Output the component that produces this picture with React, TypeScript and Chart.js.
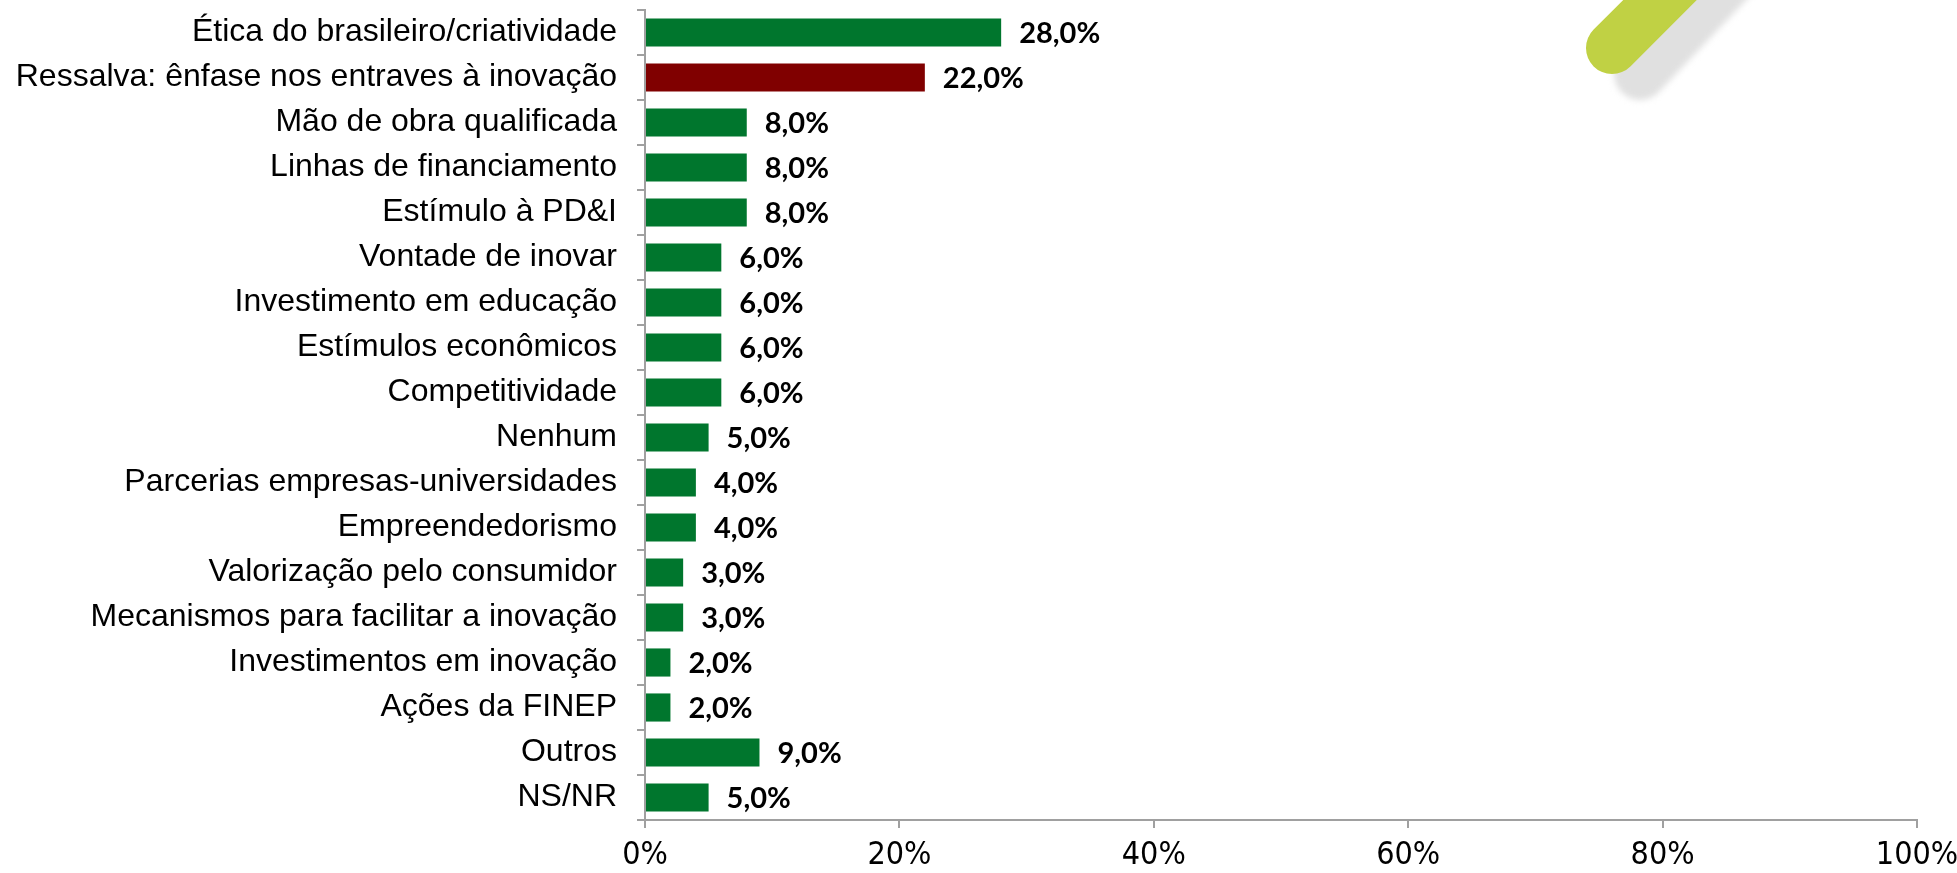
import React, { useEffect, useRef } from "react";
import { Chart, registerables } from "chart.js";

Chart.register(...registerables);

const categories: string[] = [
  "Ética do brasileiro/criatividade",
  "Ressalva: ênfase nos entraves à inovação",
  "Mão de obra qualificada",
  "Linhas de financiamento",
  "Estímulo à PD&I",
  "Vontade de inovar",
  "Investimento em educação",
  "Estímulos econômicos",
  "Competitividade",
  "Nenhum",
  "Parcerias empresas-universidades",
  "Empreendedorismo",
  "Valorização pelo consumidor",
  "Mecanismos para facilitar a inovação",
  "Investimentos em inovação",
  "Ações da FINEP",
  "Outros",
  "NS/NR",
];

const values: number[] = [28, 22, 8, 8, 8, 6, 6, 6, 6, 5, 4, 4, 3, 3, 2, 2, 9, 5];

const GREEN = "#00762D";
const RED = "#800000";
const barColors: string[] = categories.map((_, i) => (i === 1 ? RED : GREEN));

const xTickValues: number[] = [0, 20, 40, 60, 80, 100];

const AXIS_COLOR = "#A0A0A0";

const valueLabelPlugin = {
  id: "valueLabels",
  afterDatasetsDraw(chart: any) {
    const ctx = chart.ctx;
    const meta = chart.getDatasetMeta(0);
    ctx.save();
    ctx.font = "bold 29px Lato, 'DejaVu Sans', sans-serif";
    ctx.fillStyle = "#000";
    ctx.textAlign = "left";
    ctx.textBaseline = "middle";
    meta.data.forEach((bar: any, i: number) => {
      const v = values[i];
      const txt = v.toFixed(1).replace(".", ",") + "%";
      ctx.fillText(txt, bar.x + 18, bar.y + 1);
    });
    ctx.restore();
  },
};

const logoPlugin = {
  id: "logo",
  beforeDraw(chart: any) {
    const ctx = chart.ctx;
    ctx.save();
    ctx.lineCap = "round";
    ctx.lineWidth = 52;
    // shadow
    ctx.save();
    ctx.filter = "blur(3px)";
    ctx.strokeStyle = "#E0E0E0";
    ctx.beginPath();
    ctx.moveTo(1640, 74);
    ctx.lineTo(1830, -126);
    ctx.stroke();
    ctx.restore();
    // green stroke
    ctx.strokeStyle = "#C0D144";
    ctx.beginPath();
    ctx.moveTo(1612, 48);
    ctx.lineTo(1812, -152);
    ctx.stroke();
    ctx.restore();
  },
};

export default function App() {
  const canvasRef = useRef<HTMLCanvasElement | null>(null);

  useEffect(() => {
    if (!canvasRef.current) return;
    const chart = new Chart(canvasRef.current, {
      type: "bar",
      data: {
        labels: categories,
        datasets: [
          {
            data: values,
            backgroundColor: barColors,
            borderWidth: 0,
            categoryPercentage: 1,
            barPercentage: 0.625,
          },
        ],
      },
      options: {
        indexAxis: "y",
        responsive: false,
        animation: false,
        devicePixelRatio: 1,
        layout: { padding: { left: 0, top: 10, right: 40, bottom: 0 } },
        plugins: {
          legend: { display: false },
          tooltip: { enabled: false },
        },
        scales: {
          x: {
            type: "linear",
            min: 0,
            max: 100,
            afterBuildTicks: (scale: any) => {
              scale.ticks = xTickValues.map((v) => ({ value: v }));
            },
            ticks: {
              callback: (v: any) => v + "%",
              font: { family: "'Liberation Sans Narrow', 'DejaVu Sans Condensed', sans-serif", size: 32 },
              color: "#000",
              padding: 8,
              maxRotation: 0,
            },
            grid: {
              drawOnChartArea: false,
              drawTicks: true,
              tickLength: 8,
              color: AXIS_COLOR,
              lineWidth: 2,
            },
            border: { display: true, color: AXIS_COLOR, width: 2 },
            afterFit: (scale: any) => {
              scale.height = 53;
              scale.paddingLeft = 0;
              scale.paddingRight = 0;
            },
          },
          y: {
            type: "category",
            ticks: {
              font: { family: "'Liberation Sans', Arial, sans-serif", size: 32 },
              color: "#000",
              padding: 20,
              autoSkip: false,
            },
            grid: {
              drawOnChartArea: false,
              drawTicks: true,
              tickLength: 8,
              offset: true,
              color: AXIS_COLOR,
              lineWidth: 2,
            },
            border: { display: true, color: AXIS_COLOR, width: 2 },
            afterFit: (scale: any) => {
              scale.width = 645;
              scale.paddingTop = 0;
              scale.paddingBottom = 0;
            },
          },
        },
      } as any,
      plugins: [logoPlugin, valueLabelPlugin],
    });
    return () => chart.destroy();
  }, []);

  return (
    <div style={{ position: "fixed", left: 0, top: 0, width: 1957, height: 873, background: "#fff" }}>
      <canvas ref={canvasRef} width={1957} height={873} style={{ width: 1957, height: 873, display: "block" }} />
    </div>
  );
}
